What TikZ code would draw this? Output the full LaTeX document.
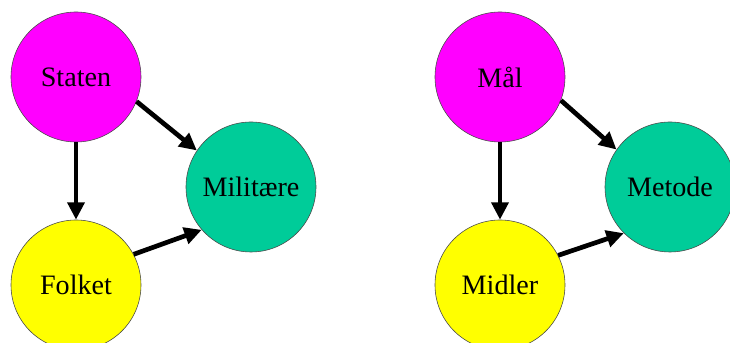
\documentclass[tikz,border=0pt]{standalone}
\usepackage{fontspec}
\setmainfont{Liberation Serif}
\usepackage{tikz}
\usetikzlibrary{arrows.meta}

\definecolor{lilla}{RGB}{255,0,255}
\definecolor{gul}{RGB}{255,255,0}
\definecolor{groenn}{RGB}{0,204,153}

\tikzset{
    sirkel/.style={circle, draw=black!70, line width=0.5pt, minimum size=3.9cm, inner sep=0pt, font=\fontsize{24}{29}\selectfont},
    pil/.style={line width=4pt, -{Triangle[length=0.52cm,width=0.5cm]}}
}

\begin{document}
\begin{tikzpicture}
                \useasboundingbox (0,0) rectangle (21.9,10.29);
                \clip (0,0) rectangle (21.9,10.29);

                \node[sirkel, fill=lilla] (staten) at (2.28, 7.98) {Staten};
                \node[sirkel, fill=gul] (folket) at (2.28, 1.74) {Folket};
                \node[sirkel, fill=groenn] (militaere) at (7.53, 4.68) {Militære};

                \node[sirkel, fill=lilla] (maal) at (15.0, 7.98) {Mål};
                \node[sirkel, fill=gul] (midler) at (15.0, 1.74) {Midler};
                \node[sirkel, fill=groenn] (metode) at (20.1, 4.68) {Metode};

                \draw[pil] (staten.south) -- (folket.north);
                \draw[pil] (staten.-22) -- (militaere.146);
                \draw[pil] (folket.28) -- (militaere.221);

                \draw[pil] (maal.south) -- (midler.north);
                \draw[pil] (maal.-21) -- (metode.145);
                \draw[pil] (midler.27) -- (metode.225);
            \end{tikzpicture}
\end{document}
